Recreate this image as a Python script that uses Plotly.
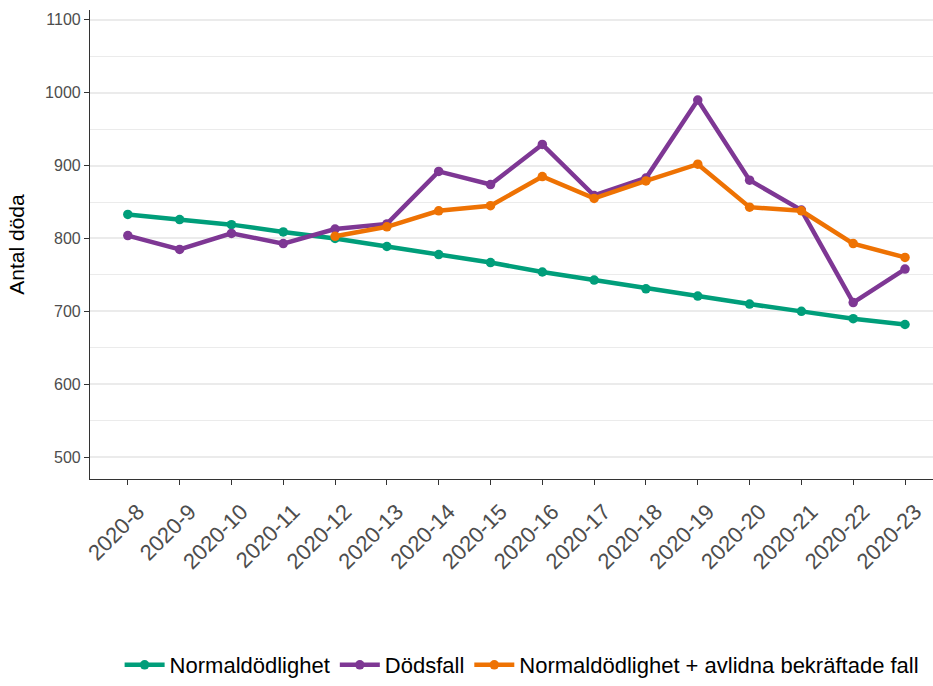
import plotly.graph_objects as go

weeks = ["2020-8", "2020-9", "2020-10", "2020-11", "2020-12", "2020-13", "2020-14", "2020-15",
         "2020-16", "2020-17", "2020-18", "2020-19", "2020-20", "2020-21", "2020-22", "2020-23"]
normal = [833, 826, 819, 809, 800, 789, 778, 767, 754, 743, 731, 721, 710, 700, 690, 682]
deaths = [804, 785, 807, 793, 813, 820, 892, 874, 929, 859, 883, 990, 880, 839, 712, 758]
normal_plus_weeks = weeks[4:]
normal_plus = [803, 816, 838, 845, 885, 855, 879, 902, 843, 838, 793, 774]

names = ["Normaldödlighet", "Dödsfall", "Normaldödlighet + avlidna bekräftade fall"]
colors = ["#009E7A", "#7E3794", "#EE7203"]

fig = go.Figure()
for name, xs, ys, c in [(names[0], weeks, normal, colors[0]),
                        (names[1], weeks, deaths, colors[1]),
                        (names[2], normal_plus_weeks, normal_plus, colors[2])]:
    fig.add_trace(go.Scatter(x=xs, y=ys, name=name, mode="lines+markers",
                             line=dict(color=c, width=4.5),
                             marker=dict(color=c, size=9.5)))

fig.update_layout(
    width=933, height=686,
    margin=dict(l=90, r=0, t=10, b=200),
    paper_bgcolor="white", plot_bgcolor="white",
    font=dict(family="Liberation Sans, Arial, sans-serif", color="black"),
    showlegend=True,
    legend=dict(orientation="h", x=0.512, xanchor="center", y=-0.397, yanchor="middle",
                font=dict(size=22, color="black"), itemwidth=40, tracegroupgap=0),
)
fig.update_xaxes(
    type="category", categoryorder="array", categoryarray=weeks,
    range=[-0.73, 15.54], automargin=False,
    showline=True, linecolor="#333333", linewidth=1.2,
    ticks="outside", ticklen=5, tickcolor="#333333", tickwidth=1.2,
    tickangle=-45, tickfont=dict(size=22, color="#4D4D4D"),
    ticklabelshift=10, ticklabelstandoff=5,
    showgrid=False, zeroline=False,
)
fig.update_yaxes(
    range=[470, 1113.5], automargin=False,
    tickvals=[500, 600, 700, 800, 900, 1000, 1100],
    showline=True, linecolor="#333333", linewidth=1.2,
    ticks="outside", ticklen=5, tickcolor="#333333", tickwidth=1.2,
    tickfont=dict(size=16, color="#4D4D4D"),
    showgrid=True, gridcolor="#EBEBEB", gridwidth=1.5,
    minor=dict(dtick=50, tick0=0, showgrid=True, gridcolor="#EBEBEB", gridwidth=1.2),
    zeroline=False,
    title=dict(text="Antal döda", font=dict(size=21, color="black"), standoff=14),
)

# remove the default page margin so the figure fills the window exactly
fig.write_html("out.html", config={"displayModeBar": False},
               post_script="document.body.style.margin='0';")
